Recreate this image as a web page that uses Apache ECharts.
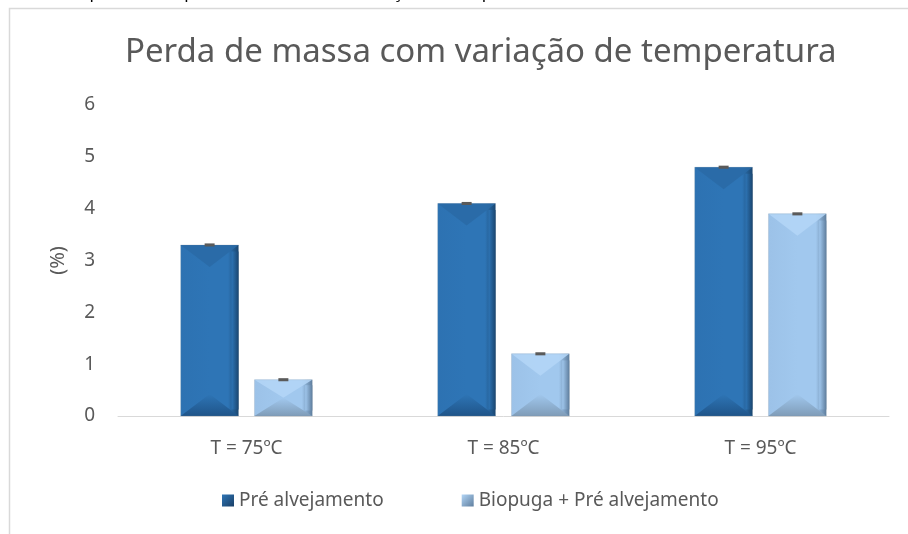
<!DOCTYPE html>
<html><head><meta charset="utf-8">
<script src="https://cdn.jsdelivr.net/npm/echarts@6/dist/echarts.min.js"></script>
<style>html,body{margin:0;padding:0;background:#fff}#c{width:908px;height:534px}</style>
</head><body><div id="c"></div>
<script>
var categories = ['T = 75ºC', 'T = 85ºC', 'T = 95ºC'];
var seriesNames = ['Pré alvejamento', 'Biopuga + Pré alvejamento'];
var preAlvejamento = [3.3, 4.1, 4.8];
var biopugaPre = [0.7, 1.2, 3.9];
var errPre = [0.02, 0.02, 0.02];
var errBio = [0.02, 0.02, 0.02];
var yTicks = [0, 1, 2, 3, 4, 5, 6];
var captionText = 'Figura 10 - Gráfico comparativo de perda de massa com variação de temperatura';

var FONT = 'Noto Sans';
var palettes = [
  {left:'#2d72b2', mid:'#2e75b6', right:'#1a4670', top:'#2a6aa6', bottom:'#1f5489'},
  {left:'#9cc2e8', mid:'#a1c8ee', right:'#5f7e9e', top:'#b2d5f6', bottom:'#7f9cb8'}
];

function makeRender(sIdx, errs) {
  return function (params, api) {
    var ci = api.value(0), val = api.value(1);
    var band = api.size([1, 0])[0];
    var bw = band * 0.225, gap = band * 0.062;
    var cx = api.coord([ci, val])[0] + (sIdx === 0 ? -1 : 1) * (bw + gap) / 2;
    var yt = api.coord([ci, val])[1], yb = api.coord([ci, 0])[1];
    var x0 = cx - bw / 2, x1 = cx + bw / 2;
    var p = palettes[sIdx];
    var h = Math.min(bw * 0.38, (yb - yt) / 2);
    var e = errs[ci];
    var ye1 = api.coord([ci, val + e])[1], ye2 = api.coord([ci, val - e])[1];
    return {type: 'group', children: [
      {type: 'rect', shape: {x: x0, y: yt, width: bw, height: yb - yt},
        style: {fill: new echarts.graphic.LinearGradient(0, 0, 1, 0, [
          {offset: 0, color: p.left}, {offset: 0.5, color: p.mid},
          {offset: 0.82, color: p.mid}, {offset: 1, color: p.right}])}},
      {type: 'polygon', shape: {points: [[x0, yt], [x1, yt], [cx, yt + h]]},
        style: {fill: p.top, opacity: 0.9}},
      {type: 'polygon', shape: {points: [[x0, yb], [x1, yb], [cx, yb - h]]},
        style: {fill: new echarts.graphic.LinearGradient(0, 0, 0, 1, [
          {offset: 0, color: p.mid}, {offset: 1, color: p.bottom}])}},
      {type: 'rect', shape: {x: x1 - bw * 0.12, y: yt + h * 0.3, width: bw * 0.12, height: Math.max(0, yb - yt - h * 0.6)},
        style: {fill: new echarts.graphic.LinearGradient(0, 0, 1, 0, [
          {offset: 0, color: p.mid}, {offset: 1, color: p.right}])}},
      {type: 'rect', shape: {x: x0, y: yt, width: bw, height: yb - yt},
        style: {fill: 'none', stroke: 'rgba(120,140,160,0.35)', lineWidth: 0.6}},
      {type: 'rect', shape: {x: cx - 5, y: ye1 - 0.5, width: 10, height: Math.max(2, ye2 - ye1 + 1)},
        style: {fill: '#5a5a5a'}}
    ]};
  };
}

var chart = echarts.init(document.getElementById('c'), null, {renderer: 'canvas'});
chart.setOption({
  animation: false,
  backgroundColor: '#ffffff',
  textStyle: {fontFamily: FONT},
  graphic: [
    {type: 'rect', left: 7, top: 6, shape: {width: 1000, height: 1000},
      style: {fill: 'none', stroke: '#d9d9d9', lineWidth: 1.5}, silent: true, z: -1},
    {type: 'text', x: -95, y: -7, silent: true,
      style: {text: captionText, fontFamily: FONT, fontSize: 17, fill: '#000000', verticalAlign: 'middle'}}
  ],
  title: {text: 'Perda de massa com variação de temperatura', left: 120, top: 31,
    textStyle: {fontFamily: FONT, fontSize: 33, fontWeight: 'normal', color: '#595959'}},
  legend: {bottom: 19, left: 217, itemGap: 78, itemWidth: 12, itemHeight: 12, icon: 'rect',
    textStyle: {fontFamily: FONT, fontSize: 19, color: '#595959'},
    data: [
      {name: seriesNames[0], itemStyle: {color: new echarts.graphic.LinearGradient(0, 0, 1, 1, [{offset: 0, color: '#2e75b6'}, {offset: 1, color: '#1a3f66'}])}},
      {name: seriesNames[1], itemStyle: {color: new echarts.graphic.LinearGradient(0, 0, 1, 1, [{offset: 0, color: '#b2d5f6'}, {offset: 1, color: '#5f7e9e'}])}}
    ]},
  grid: {left: 118, right: 19, top: 105, bottom: 118},
  xAxis: {type: 'category', data: categories,
    axisLine: {lineStyle: {color: '#d9d9d9', width: 1}}, axisTick: {show: false},
    axisLabel: {fontFamily: FONT, fontSize: 19, color: '#595959', margin: 23}},
  yAxis: {type: 'value', min: yTicks[0], max: yTicks[yTicks.length - 1], interval: 1,
    name: '(%)', nameLocation: 'middle', nameRotate: 90, nameGap: 50,
    nameTextStyle: {fontFamily: FONT, fontSize: 20, color: '#595959'},
    axisLine: {show: false}, axisTick: {show: false}, splitLine: {show: false},
    axisLabel: {fontFamily: FONT, fontSize: 19, color: '#595959', margin: 23}},
  series: [
    {name: seriesNames[0], type: 'custom', renderItem: makeRender(0, errPre),
      itemStyle: {color: '#2e75b6'}, encode: {x: 0, y: 1},
      data: preAlvejamento.map(function (v, i) { return [i, v]; })},
    {name: seriesNames[1], type: 'custom', renderItem: makeRender(1, errBio),
      itemStyle: {color: '#a1c8ee'}, encode: {x: 0, y: 1},
      data: biopugaPre.map(function (v, i) { return [i, v]; })}
  ]
});
</script></body></html>
